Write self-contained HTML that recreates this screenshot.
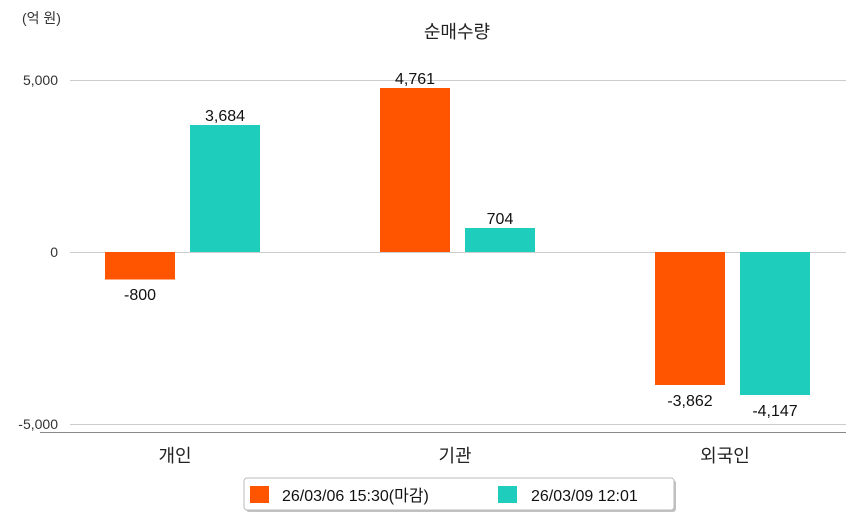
<!DOCTYPE html>
<html><head><meta charset="utf-8"><style>
body{margin:0;background:#fff;}
svg text{font-family:"Liberation Sans","Noto Sans CJK KR",sans-serif;}
</style></head><body>
<svg width="854" height="520" viewBox="0 0 854 520" xmlns="http://www.w3.org/2000/svg">
<rect width="854" height="520" fill="#fff"/>
<text x="22" y="23" font-size="14" fill="#333">(억 원)</text>
<text x="457" y="38" font-size="18" fill="#222" text-anchor="middle">순매수량</text>
<g stroke="#ccc" stroke-width="1">
<line x1="70" y1="80.5" x2="846" y2="80.5"/>
<line x1="70" y1="252.5" x2="846" y2="252.5"/>
<line x1="70" y1="424.5" x2="846" y2="424.5"/>
</g>
<line x1="40" y1="432.5" x2="846" y2="432.5" stroke="#888"/>
<g font-size="14" fill="#333" text-anchor="end">
<text x="58" y="85">5,000</text>
<text x="58" y="257">0</text>
<text x="58" y="429">-5,000</text>
</g>
<g fill="#ff5500">
<rect x="105" y="252" width="70" height="27.5"/>
<rect x="380" y="88" width="70" height="164"/>
<rect x="655" y="252" width="70" height="133"/>
</g>
<g fill="#1ecdbb">
<rect x="190" y="125" width="70" height="127"/>
<rect x="465" y="228" width="70" height="24"/>
<rect x="740" y="252" width="70" height="143"/>
</g>
<g font-size="16" fill="#111" text-anchor="middle">
<text x="140" y="300">-800</text>
<text x="225" y="121">3,684</text>
<text x="415" y="84">4,761</text>
<text x="500" y="224">704</text>
<text x="690" y="406">-3,862</text>
<text x="775" y="416">-4,147</text>
</g>
<g font-size="18" fill="#222" text-anchor="middle">
<text x="175" y="462">개인</text>
<text x="455" y="462">기관</text>
<text x="725" y="462">외국인</text>
</g>
<rect x="246" y="480" width="430" height="32" rx="3" fill="#999" opacity="0.6"/>
<rect x="244" y="478" width="430" height="32" rx="3" fill="#fff" stroke="#bbb"/>
<rect x="250" y="486" width="19" height="17" fill="#ff5500"/>
<text x="282" y="501" font-size="16" fill="#111">26/03/06 15:30(마감)</text>
<rect x="498" y="486" width="19" height="17" fill="#1ecdbb"/>
<text x="531" y="501" font-size="16" fill="#111">26/03/09 12:01</text>
</svg>
</body></html>
